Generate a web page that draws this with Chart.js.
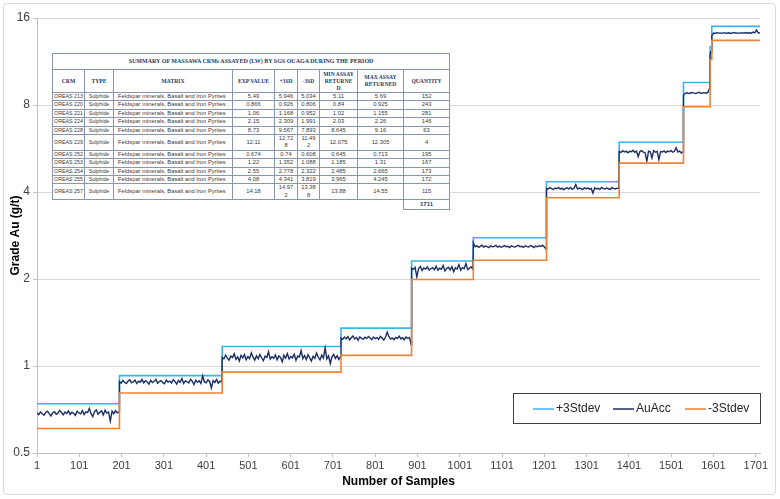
<!DOCTYPE html>
<html>
<head>
<meta charset="utf-8">
<script src="https://cdn.jsdelivr.net/npm/chart.js@4.4.1/dist/chart.umd.min.js"></script>
<style>
  html, body { margin: 0; padding: 0; background: #fff; }
  #wrap { position: relative; width: 780px; height: 499px; overflow: hidden; }
  #frame { position: absolute; left: 3px; top: 3px; width: 771px; height: 490px;
           border: 1px solid #d9d9d9; border-radius: 4px; pointer-events: none; }
  canvas { position: absolute; left: 0; top: 0; }
  #crm-table { position: absolute; left: 52px; top: 53px; width: 397px;
               border-collapse: collapse; table-layout: fixed; background: #fff; }
  #crm-table td { border: 1px solid #8896b0; padding: 0; text-align: center; vertical-align: middle;
                  font: 5.8px/7.4px "Liberation Sans", Arial, sans-serif; color: #3a3a3a; overflow: hidden;
                  white-space: nowrap; }
  #crm-table td.crm, #crm-table td.type { font-size: 5.3px; }
  #crm-table td.matrix { text-align: left; padding-left: 4px; }
  #crm-table tr.title td, #crm-table tr.head td {
    font: bold 5.6px/7px "Liberation Serif", "Times New Roman", serif; color: #1f3864; }
  #crm-table tr.title td { height: 15px; font-size: 6px; }
  #crm-table tr.head td { height: 22px; }
  #crm-table tr.row td { height: 7.4px; }
  #crm-table tr.total td { border: none; height: 9px; }
  #crm-table tr.total td.sum { border: 1px solid #8896b0; font-weight: bold; font-size: 6px; color: #1f3864; }
</style>
</head>
<body>
<div id="wrap">
  <canvas id="chart" width="780" height="499"></canvas>
  <table id="crm-table"></table>
  <div id="frame"></div>
</div>
<script>
// ── Data ──────────────────────────────────────────────────────────────────
const crmNames  = ['OREAS 213', 'OREAS 220', 'OREAS 221', 'OREAS 224', 'OREAS 228', 'OREAS 229',
                   'OREAS 252', 'OREAS 253', 'OREAS 254', 'OREAS 255', 'OREAS 257'];
const expValue  = [5.49, 0.866, 1.06, 2.15, 8.73, 12.11, 0.674, 1.22, 2.55, 4.08, 14.18];
const plus3sd   = [5.946, 0.926, 1.168, 2.309, 9.567, 12.728, 0.74, 1.352, 2.778, 4.341, 14.972];
const minus3sd  = [5.034, 0.806, 0.952, 1.991, 7.893, 11.492, 0.608, 1.088, 2.322, 3.819, 13.388];
const minAssay  = [5.11, 0.84, 1.02, 2.03, 8.645, 12.075, 0.645, 1.185, 2.485, 3.965, 13.88];
const maxAssay  = [5.69, 0.925, 1.155, 2.26, 9.16, 12.305, 0.713, 1.31, 2.665, 4.245, 14.55];
const quantity  = [152, 243, 281, 146, 63, 4, 195, 167, 173, 172, 115];

const xTicks = [1, 101, 201, 301, 401, 501, 601, 701, 801, 901, 1001, 1101, 1201, 1301, 1401, 1501, 1601, 1701];
const yTicks = [0.5, 1, 2, 4, 8, 16];

// AuAcc assays (evenly spread over each CRM's samples)
const auAcc252 = [0.688,0.679,0.694,0.683,0.676,0.691,0.698,0.684,0.672,0.689,0.695,0.681,0.687,0.702,0.690,0.678,
  0.693,0.685,0.699,0.680,0.692,0.686,0.675,0.697,0.688,0.683,0.701,0.679,0.694,0.690,0.713,0.684,0.668,0.696,0.705,
  0.681,0.692,0.699,0.677,0.704,0.687,0.693,0.645,0.698,0.684,0.700,0.689,0.694];
const auAcc220 = [0.884,0.872,0.891,0.878,0.869,0.887,0.896,0.875,0.882,0.893,0.870,0.886,0.879,0.898,0.874,0.889,
  0.881,0.865,0.892,0.877,0.885,0.900,0.871,0.883,0.890,0.876,0.868,0.894,0.880,0.887,0.873,0.897,0.884,0.866,0.891,
  0.879,0.905,0.870,0.888,0.882,0.874,0.899,0.886,0.862,0.893,0.878,0.889,0.870,0.925,0.881,0.875,0.895,0.884,0.840,
  0.890,0.877,0.898,0.872,0.886,0.881];
const auAcc221 = [1.072,1.058,1.091,1.064,1.047,1.083,1.069,1.102,1.055,1.077,1.040,1.088,1.066,1.095,1.051,1.079,
  1.061,1.110,1.073,1.048,1.085,1.059,1.097,1.068,1.043,1.081,1.070,1.120,1.056,1.076,1.063,1.092,1.050,1.084,1.071,
  1.035,1.089,1.065,1.104,1.057,1.078,1.067,1.099,1.046,1.082,1.074,1.131,1.060,1.087,1.053,1.094,1.069,1.041,1.080,
  1.063,1.108,1.072,1.049,1.090,1.066,1.155,1.058,1.083,1.020,1.075,1.096,1.062,1.086,1.054,1.079];
const auAcc253 = [1.248,1.236,1.259,1.242,1.265,1.231,1.252,1.270,1.240,1.255,1.228,1.262,1.246,1.238,1.258,1.244,
  1.266,1.251,1.233,1.260,1.243,1.254,1.237,1.266,1.249,1.229,1.257,1.310,1.263,1.239,1.250,1.234,1.256,1.247,1.268,
  1.241,1.253,1.232,1.261,1.245,1.255,1.185];
const auAcc224 = [2.180,2.160,2.195,2.030,2.175,2.210,2.140,2.185,2.165,2.200,2.150,2.170,2.190,2.155,2.215,2.145,
  2.180,2.160,2.225,2.135,2.175,2.195,2.150,2.205,2.120,2.185,2.165,2.240,2.145,2.190,2.170,2.260,2.155,2.180,2.200,2.165];
const auAcc254 = [2.665,2.585,2.610,2.575,2.595,2.620,2.580,2.600,2.590,2.570,2.605,2.585,2.595,2.615,2.580,2.600,
  2.575,2.590,2.610,2.585,2.595,2.570,2.605,2.590,2.580,2.600,2.615,2.585,2.595,2.575,2.605,2.590,2.580,2.610,2.595,
  2.570,2.600,2.585,2.605,2.590,2.620,2.580,2.540];
const auAcc255 = [4.120,4.095,4.140,4.110,4.080,4.130,4.105,4.150,4.090,4.125,4.070,4.115,4.135,4.100,4.145,4.085,
  4.120,4.245,4.095,4.130,4.110,4.075,4.140,4.105,4.125,4.090,4.115,3.965,4.135,4.100,4.120,4.080,4.150,4.110,4.095,
  4.130,4.105,4.085,4.140,4.115,4.100,4.125,4.110];
const auAcc213 = [5.520,5.480,5.560,5.500,5.540,5.470,5.530,5.510,5.580,5.490,5.540,5.300,5.520,5.560,5.500,5.470,
  5.110,5.540,5.510,5.250,5.560,5.490,5.530,5.180,5.520,5.500,5.550,5.480,5.540,5.510,5.570,5.490,5.530,5.690,5.500,
  5.540,5.460,5.520];
const auAcc228 = [8.650,8.780,8.820,8.760,8.800,8.840,8.790,8.770,8.810,8.850,8.780,8.800,8.830,8.790,8.860,9.160];
const auAcc229 = [12.075,12.305,12.110,12.200];
const auAcc257 = [13.880,14.200,14.150,14.230,14.180,14.210,14.160,14.240,14.190,14.170,14.220,14.150,14.200,14.260,
  14.180,14.210,14.160,14.230,14.190,14.200,14.250,14.170,14.220,14.180,14.300,14.210,14.550,14.190,14.230];

const auAccByCrm = {
  'OREAS 213': auAcc213, 'OREAS 220': auAcc220, 'OREAS 221': auAcc221, 'OREAS 224': auAcc224,
  'OREAS 228': auAcc228, 'OREAS 229': auAcc229, 'OREAS 252': auAcc252, 'OREAS 253': auAcc253,
  'OREAS 254': auAcc254, 'OREAS 255': auAcc255, 'OREAS 257': auAcc257
};

// ── Summary table ─────────────────────────────────────────────────────────
(function () {
  const table = document.getElementById('crm-table');
  const wrap5 = v => { const s = String(v); return s.length > 5 ? s.slice(0, 5) + '<br>' + s.slice(5) : s; };
  let html = '<colgroup><col style="width:32px"><col style="width:29px"><col style="width:119px">' +
    '<col style="width:42px"><col style="width:23px"><col style="width:22px"><col style="width:38px">' +
    '<col style="width:46px"><col style="width:46px"></colgroup>';
  html += '<tr class="title"><td colspan="9">SUMMARY OF MASSAWA CRMs ASSAYED (LW) BY SGS OUAGA DURING THE PERIOD</td></tr>';
  html += '<tr class="head"><td>CRM</td><td>TYPE</td><td>MATRIX</td><td>EXP VALUE</td><td>+3SD</td><td>-3SD</td>' +
    '<td>MIN ASSAY<br>RETURNE<br>D</td><td>MAX ASSAY<br>RETURNED</td><td>QUANTITY</td></tr>';
  crmNames.forEach((name, i) => {
    html += `<tr class="row"><td class="crm">${name}</td><td class="type">Sulphide</td>` +
      `<td class="matrix">Feldspar minerals, Basalt and Iron Pyrites</td>` +
      `<td>${expValue[i]}</td><td>${wrap5(plus3sd[i])}</td><td>${wrap5(minus3sd[i])}</td>` +
      `<td>${minAssay[i]}</td><td>${maxAssay[i]}</td><td>${quantity[i]}</td></tr>`;
  });
  const total = quantity.reduce((a, b) => a + b, 0);
  html += `<tr class="total"><td colspan="8"></td><td class="sum">${total}</td></tr>`;
  table.innerHTML = html;
})();

// ── Chart series (CRMs in grade order along the sample axis) ──────────────
const order = crmNames.map((_, i) => i).sort((a, b) => expValue[a] - expValue[b]);
const upperPts = [], lowerPts = [], auPts = [];
let start = 1;
order.forEach(i => {
  const n = quantity[i];
  upperPts.push({ x: start, y: plus3sd[i] });
  lowerPts.push({ x: start, y: minus3sd[i] });
  const vals = auAccByCrm[crmNames[i]];
  const stepX = vals.length > 1 ? (n - 1) / (vals.length - 1) : 0;
  vals.forEach((v, k) => auPts.push({ x: start + k * stepX, y: v }));
  start += n;
});
const lastIdx = order[order.length - 1];
upperPts.push({ x: start - 1, y: plus3sd[lastIdx] });
lowerPts.push({ x: start - 1, y: minus3sd[lastIdx] });

const COLORS = { upper: '#3cb4e7', au: '#1b2f66', lower: '#ee8237' };

// ── Legend box drawn inside the plot ──────────────────────────────────────
const legendBox = {
  id: 'legendBox',
  afterDraw(chart) {
    const { ctx } = chart;
    ctx.save();
    ctx.fillStyle = '#fff';
    ctx.fillRect(513, 393, 247, 31);
    ctx.strokeStyle = '#404040';
    ctx.lineWidth = 1;
    ctx.strokeRect(513.5, 393.5, 247, 30);
    const items = [
      { ds: 0, x: 533 }, { ds: 1, x: 613 }, { ds: 2, x: 685 }
    ];
    ctx.font = '12px "Liberation Sans", Arial, sans-serif';
    ctx.textBaseline = 'middle';
    items.forEach(it => {
      const ds = chart.data.datasets[it.ds];
      ctx.strokeStyle = ds.borderColor;
      ctx.lineWidth = 1.5;
      ctx.beginPath();
      ctx.moveTo(it.x, 409);
      ctx.lineTo(it.x + 21, 409);
      ctx.stroke();
      ctx.fillStyle = '#262626';
      ctx.fillText(ds.label, it.x + 23, 409);
    });
    ctx.restore();
  }
};

new Chart(document.getElementById('chart'), {
  type: 'line',
  data: {
    datasets: [
      { label: '+3Stdev', data: upperPts, borderColor: COLORS.upper, borderWidth: 1.6,
        stepped: 'before', pointRadius: 0, order: 3 },
      { label: 'AuAcc', data: auPts, borderColor: COLORS.au, borderWidth: 1.4,
        pointRadius: 0, tension: 0, order: 2 },
      { label: '-3Stdev', data: lowerPts, borderColor: COLORS.lower, borderWidth: 1.6,
        stepped: 'before', pointRadius: 0, order: 1 }
    ]
  },
  options: {
    responsive: false,
    animation: false,
    layout: { padding: { top: 18, right: 20, left: 0, bottom: 0 } },
    plugins: { legend: { display: false }, tooltip: { enabled: false } },
    scales: {
      x: {
        type: 'linear', min: 1, max: 1711,
        afterBuildTicks: s => { s.ticks = xTicks.map(v => ({ value: v })); },
        afterFit: s => { s.height = 46; },
        grid: { display: true, drawOnChartArea: false, drawTicks: true, tickLength: 4, color: '#bfbfbf' },
        border: { color: '#bfbfbf' },
        ticks: { color: '#404040', padding: 2, maxRotation: 0, autoSkip: false,
                 font: { family: '"Liberation Sans", Arial, sans-serif', size: 11 },
                 callback: v => String(v) },
        title: { display: true, text: 'Number of Samples', color: '#000',
                 font: { family: '"Liberation Sans", Arial, sans-serif', size: 12, weight: 'bold' },
                 padding: { top: 0, bottom: 10 } }
      },
      y: {
        type: 'logarithmic', min: 0.5, max: 16,
        afterBuildTicks: s => { s.ticks = yTicks.map(v => ({ value: v })); },
        afterFit: s => { s.width = 37; },
        grid: { color: '#d9d9d9', tickLength: 4, tickColor: '#bfbfbf' },
        border: { color: '#bfbfbf' },
        ticks: { color: '#404040', padding: 3, autoSkip: false,
                 font: { family: '"Liberation Sans", Arial, sans-serif', size: 12 },
                 callback: v => String(v) },
        title: { display: true, text: 'Grade Au (g/t)', color: '#000',
                 font: { family: '"Liberation Sans", Arial, sans-serif', size: 12, weight: 'bold' },
                 padding: { top: 8, bottom: 0 } }
      }
    }
  },
  plugins: [legendBox]
});
</script>
</body>
</html>
